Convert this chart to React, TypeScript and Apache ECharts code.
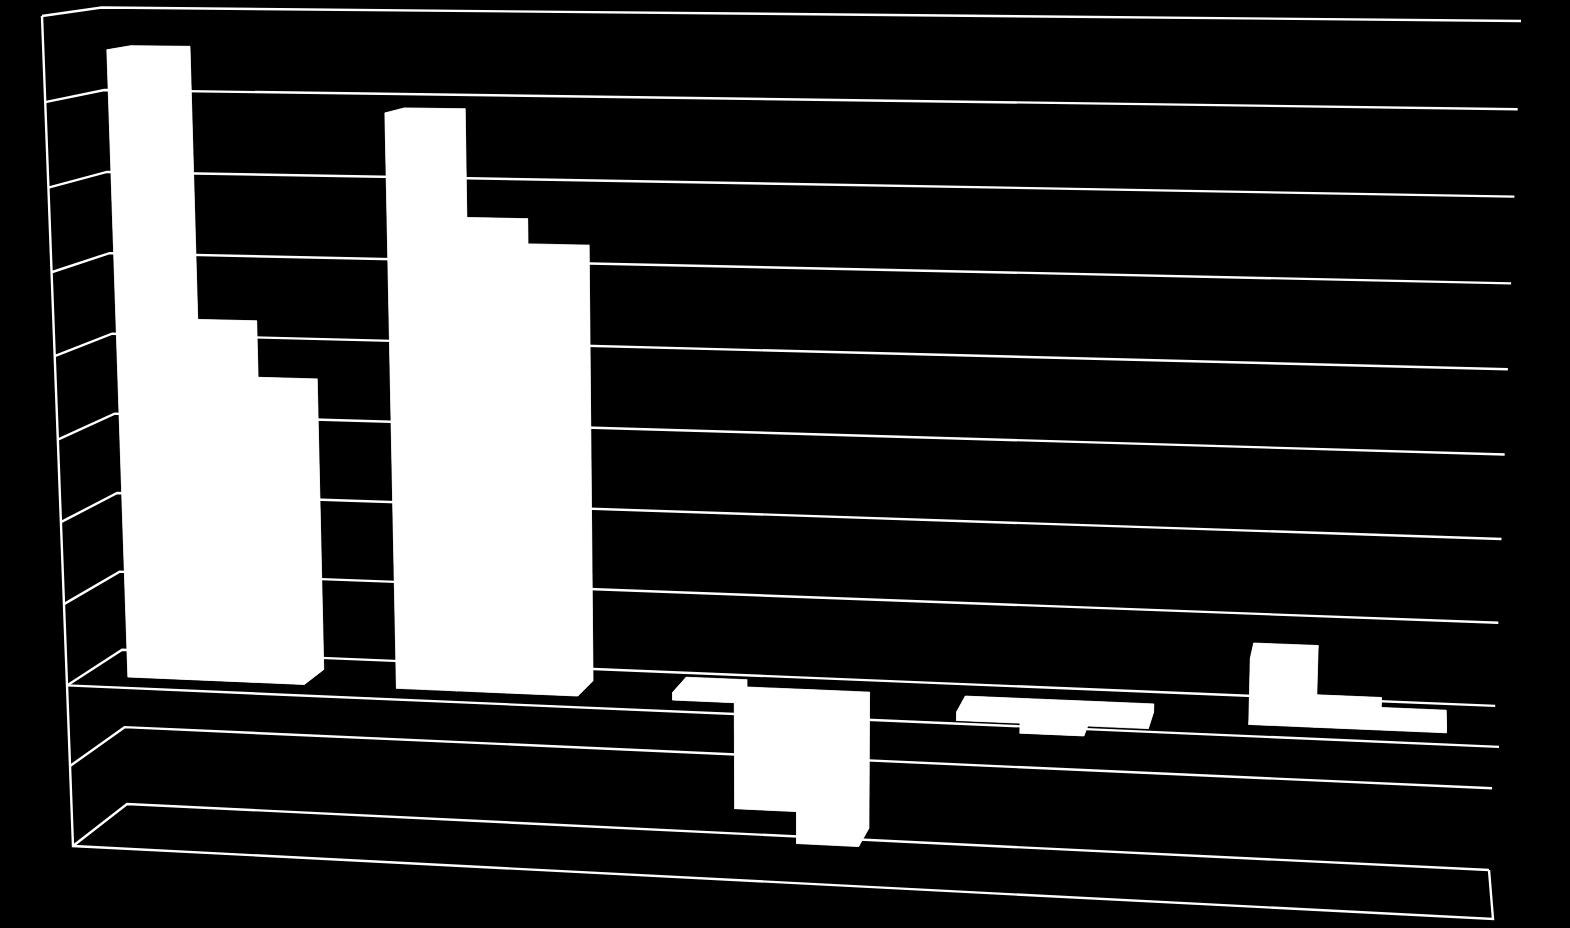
import React, { useEffect, useRef } from "react";
import * as echarts from "echarts";

const categories = ["A", "B", "C", "D", "E"];
const seriesOne = [7.58, 6.88, 0.09, -0.1, 0.78];
const seriesTwo = [4.29, 5.59, -1.29, -0.22, 0.19];
const seriesThree = [3.6, 5.29, -1.68, -0.1, 0.07];
const wallTicks = [8, 7, 6, 5, 4, 3, 2, 1, 0, -1, -2];

type P = [number, number];
// The 3-D frame of the chart: where the corners of the back wall and of the front plane land
const BACK: P[] = [[101.7, 7.5], [1521, 21], [1489, 870], [127, 804]];
const FRONT: P[] = [[42, 16], [1524, 27], [1493, 919], [73, 846]];
const BAR_FRONT = 0.71;
const BAR_BACK = 0.3;
const BAR_SHARE = 0.22;

function quadMap(q: P[]) {
  const [[x0, y0], [x1, y1], [x2, y2], [x3, y3]] = q;
  const dx1 = x1 - x2, dx2 = x3 - x2, dx3 = x0 - x1 + x2 - x3;
  const dy1 = y1 - y2, dy2 = y3 - y2, dy3 = y0 - y1 + y2 - y3;
  const det = dx1 * dy2 - dx2 * dy1;
  const g = (dx3 * dy2 - dx2 * dy3) / det;
  const h = (dx1 * dy3 - dx3 * dy1) / det;
  const a = x1 - x0 + g * x1, b = x3 - x0 + h * x3;
  const d = y1 - y0 + g * y1, e = y3 - y0 + h * y3;
  return (s: number, t: number): P => {
    const w = g * s + h * t + 1;
    return [(a * s + b * t + x0) / w, (d * s + e * t + y0) / w];
  };
}
const backMap = quadMap(BACK);
const frontMap = quadMap(FRONT);

function projector(params: any, api: any) {
  const cs = params.coordSys;
  const band = api.size([1, 0])[0];
  return (xPos: number, v: number, depth: number): P => {
    const c = api.coord([0, v]);
    const s = (c[0] - band / 2 + xPos * band - cs.x) / cs.width;
    const t = (c[1] - cs.y) / cs.height;
    const b = backMap(s, t);
    const f = frontMap(s, t);
    return [b[0] + (f[0] - b[0]) * depth, b[1] + (f[1] - b[1]) * depth];
  };
}

const lineStyle = { stroke: "#fff", lineWidth: 2.4, fill: "none" };

function wallItem(params: any, api: any) {
  const p = projector(params, api);
  const v = api.value(1);
  const n = categories.length;
  const children: any[] = [
    { type: "polyline", shape: { points: [p(0, v, 1), p(0, v, 0), p(n, v, 0)] }, style: lineStyle },
  ];
  if (v === 0) {
    children.push({ type: "line", shape: { x1: p(0, 0, 1)[0], y1: p(0, 0, 1)[1], x2: p(n, 0, 1)[0], y2: p(n, 0, 1)[1] }, style: lineStyle });
  }
  if (v === wallTicks[wallTicks.length - 1]) {
    children.push({ type: "polyline", shape: { points: [p(n, v, 0), p(n, v, 1), p(0, v, 1), p(0, wallTicks[0], 1)] }, style: lineStyle });
  }
  return { type: "group", children };
}

function barItem(k: number) {
  return (params: any, api: any) => {
    const p = projector(params, api);
    const i = api.value(0);
    const v = api.value(1);
    const x0 = i + 0.5 + (k - 1.5) * BAR_SHARE;
    const x1 = x0 + BAR_SHARE;
    const hi = Math.max(v, 0);
    const lo = Math.min(v, 0);
    const fill = { fill: "#fff", stroke: "#fff", lineWidth: 0.5 };
    const faces = [
      [p(x0, hi, BAR_BACK), p(x1, hi, BAR_BACK), p(x1, lo, BAR_BACK), p(x0, lo, BAR_BACK)],
      [p(x0, hi, BAR_FRONT), p(x0, hi, BAR_BACK), p(x0, lo, BAR_BACK), p(x0, lo, BAR_FRONT)],
      [p(x1, hi, BAR_FRONT), p(x1, hi, BAR_BACK), p(x1, lo, BAR_BACK), p(x1, lo, BAR_FRONT)],
      [p(x0, hi, BAR_FRONT), p(x1, hi, BAR_FRONT), p(x1, hi, BAR_BACK), p(x0, hi, BAR_BACK)],
      [p(x0, lo, BAR_FRONT), p(x1, lo, BAR_FRONT), p(x1, lo, BAR_BACK), p(x0, lo, BAR_BACK)],
      [p(x0, hi, BAR_FRONT), p(x1, hi, BAR_FRONT), p(x1, lo, BAR_FRONT), p(x0, lo, BAR_FRONT)],
    ];
    return {
      type: "group",
      children: faces.map((points) => ({ type: "polygon", shape: { points }, style: fill })),
    };
  };
}

export default function App() {
  const ref = useRef<HTMLDivElement>(null);
  useEffect(() => {
    document.body.style.margin = "0";
    document.body.style.background = "#000";
    const chart = echarts.init(ref.current!, null, { renderer: "svg" });
    const barSeries = [seriesOne, seriesTwo, seriesThree].map((values, k) => ({
      type: "custom",
      silent: true,
      clip: false,
      z: 3,
      renderItem: barItem(k),
      encode: { x: 0, y: 1 },
      data: values.map((v, i) => [i, v]),
    }));
    chart.setOption({
      animation: false,
      backgroundColor: "#000",
      tooltip: { show: false },
      grid: { left: 0, right: 0, top: 0, bottom: 0 },
      xAxis: { type: "category", data: categories, show: false },
      yAxis: { type: "value", min: -2, max: 8, interval: 1, show: false, splitLine: { show: false } },
      series: [
        {
          type: "custom",
          silent: true,
          clip: false,
          z: 1,
          renderItem: wallItem,
          encode: { x: 0, y: 1 },
          data: wallTicks.map((t) => [0, t]),
        },
        ...barSeries,
      ],
    });
    return () => chart.dispose();
  }, []);
  return <div ref={ref} style={{ width: 1570, height: 928, background: "#000" }} />;
}
